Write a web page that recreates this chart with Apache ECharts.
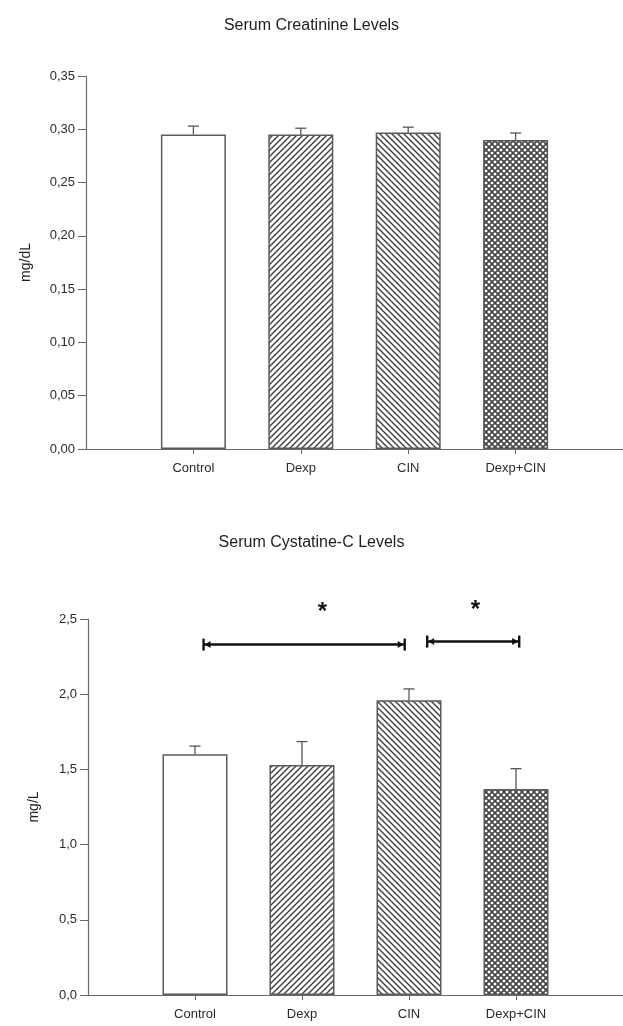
<!DOCTYPE html>
<html><head><meta charset="utf-8">
<script src="https://cdn.jsdelivr.net/npm/echarts@6/dist/echarts.min.js"></script>
<style>html,body{margin:0;padding:0;background:#fff}#c{width:623px;height:1026px}</style>
</head><body><div id="c"></div>
<script>
const categories = ['Control', 'Dexp', 'CIN', 'Dexp+CIN'];
const positions = [1, 2, 3, 4];
const creatinine = [0.295, 0.295, 0.297, 0.290];
const creatinineErr = [0.008, 0.006, 0.005, 0.0065];
const cystatin = [1.60, 1.53, 1.96, 1.37];
const cystatinErr = [0.055, 0.155, 0.075, 0.135];
const sigFrom = [1.08, 3.17];
const sigTo = [2.96, 4.03];
const sigY = [2.33, 2.35];
const starX = [2.19, 3.62];
const starY = [2.58, 2.59];
const titles = ['Serum Creatinine Levels', 'Serum Cystatine-C Levels'];
const units = ['mg/dL', 'mg/L'];

function makePattern(kind) {
  const s = 6;
  const c = document.createElement('canvas');
  c.width = s; c.height = s;
  const g = c.getContext('2d');
  g.fillStyle = '#fff'; g.fillRect(0, 0, s, s);
  g.strokeStyle = '#444'; g.lineWidth = kind === 'cross' ? 1.6 : 1.5;
  function seg(x1, y1, x2, y2) { g.beginPath(); g.moveTo(x1, y1); g.lineTo(x2, y2); g.stroke(); }
  if (kind === 'up' || kind === 'cross') {
    seg(-1, s + 1, s + 1, -1); seg(-1, 1, 1, -1); seg(s - 1, s + 1, s + 1, s - 1);
  }
  if (kind === 'down' || kind === 'cross') {
    seg(-1, -1, s + 1, s + 1); seg(s - 1, -1, s + 1, 1); seg(-1, s - 1, 1, s + 1);
  }
  return { image: c, repeat: 'repeat' };
}
const fills = ['#ffffff', makePattern('up'), makePattern('down'), makePattern('cross')];

const chart = echarts.init(document.getElementById('c'), null, { renderer: 'canvas' });

const grids = [
  { left: 86, right: 0, top: 76, height: 373 },
  { left: 88, right: 0, top: 619, height: 376 }
];
const axisColor = '#6a6a6a';
const font = 'Liberation Sans, Arial, sans-serif';

function xAxis(i) {
  return {
    type: 'value', gridIndex: i, min: 0, max: 5,
    axisLine: { lineStyle: { color: axisColor, width: 1.2 } },
    axisTick: { customValues: positions, length: 5, lineStyle: { color: axisColor } },
    axisLabel: { customValues: positions, margin: 13, color: '#2a2a2a', fontSize: 13, fontFamily: font,
      formatter: v => categories[Math.round(v) - 1] || '' },
    splitLine: { show: false }
  };
}
function yAxis(i, max, interval, dec, gap) {
  return {
    type: 'value', gridIndex: i, min: 0, max: max, interval: interval,
    name: units[i], nameLocation: 'middle', nameGap: gap, nameRotate: 90,
    nameTextStyle: { color: '#222', fontSize: 14, fontFamily: font },
    axisLine: { show: true, lineStyle: { color: axisColor, width: 1.2 } },
    axisTick: { show: true, length: 8, lineStyle: { color: axisColor } },
    axisLabel: { margin: 11, color: '#2a2a2a', fontSize: 13, fontFamily: font,
      formatter: v => v.toFixed(dec).replace('.', ',') },
    splitLine: { show: false }
  };
}

function barSeries(i, vals) {
  return {
    type: 'bar', xAxisIndex: i, yAxisIndex: i, barWidth: 65, z: 2,
    data: vals.map((v, k) => ({ value: [positions[k], v],
      itemStyle: { color: fills[k], borderColor: '#5a5a5a', borderWidth: 1.5 } }))
  };
}
function errSeries(i, vals, errs) {
  return {
    type: 'custom', xAxisIndex: i, yAxisIndex: i, z: 3,
    data: vals.map((v, k) => [positions[k], v, v + errs[k]]),
    renderItem: (params, api) => {
      const p0 = api.coord([api.value(0), api.value(1)]);
      const p1 = api.coord([api.value(0), api.value(2)]);
      const st = { stroke: '#555', lineWidth: 1.3 };
      return { type: 'group', children: [
        { type: 'line', shape: { x1: p0[0], y1: p0[1], x2: p1[0], y2: p1[1] }, style: st },
        { type: 'line', shape: { x1: p1[0] - 5.5, y1: p1[1], x2: p1[0] + 5.5, y2: p1[1] }, style: st }
      ] };
    }
  };
}
const sigSeries = {
  type: 'custom', xAxisIndex: 1, yAxisIndex: 1, z: 4,
  data: sigFrom.map((f, k) => [f, sigTo[k], sigY[k]]),
  renderItem: (params, api) => {
    const a = api.coord([api.value(0), api.value(2)]);
    const b = api.coord([api.value(1), api.value(2)]);
    const st = { stroke: '#111', lineWidth: 2.4 };
    const fillSt = { fill: '#111' };
    const y = a[1];
    return { type: 'group', children: [
      { type: 'line', shape: { x1: a[0], y1: y, x2: b[0], y2: y }, style: st },
      { type: 'line', shape: { x1: a[0], y1: y - 6, x2: a[0], y2: y + 6 }, style: st },
      { type: 'line', shape: { x1: b[0], y1: y - 6, x2: b[0], y2: y + 6 }, style: st },
      { type: 'polygon', shape: { points: [[a[0] + 1, y], [a[0] + 7, y - 3.5], [a[0] + 7, y + 3.5]] }, style: fillSt },
      { type: 'polygon', shape: { points: [[b[0] - 1, y], [b[0] - 7, y - 3.5], [b[0] - 7, y + 3.5]] }, style: fillSt }
    ] };
  }
};
const starSeries = {
  type: 'custom', xAxisIndex: 1, yAxisIndex: 1, z: 4,
  data: starX.map((x, k) => [x, starY[k]]),
  renderItem: (params, api) => {
    const p = api.coord([api.value(0), api.value(1)]);
    return { type: 'text', x: p[0], y: p[1] + 5,
      style: { text: '*', fontSize: 24, fontWeight: 'bold', fontFamily: font, fill: '#111',
        align: 'center', verticalAlign: 'middle' } };
  }
};

chart.setOption({
  animation: false,
  title: [
    { text: titles[0], left: 'center', top: 13, textStyle: { fontSize: 16, fontWeight: 'normal', color: '#1e1e1e', fontFamily: font } },
    { text: titles[1], left: 'center', top: 530, textStyle: { fontSize: 16, fontWeight: 'normal', color: '#1e1e1e', fontFamily: font } }
  ],
  grid: grids,
  xAxis: [xAxis(0), xAxis(1)],
  yAxis: [yAxis(0, 0.35, 0.05, 2, 53), yAxis(1, 2.5, 0.5, 1, 47)],
  series: [
    barSeries(0, creatinine), errSeries(0, creatinine, creatinineErr),
    barSeries(1, cystatin), errSeries(1, cystatin, cystatinErr),
    sigSeries, starSeries
  ]
});
</script></body></html>
